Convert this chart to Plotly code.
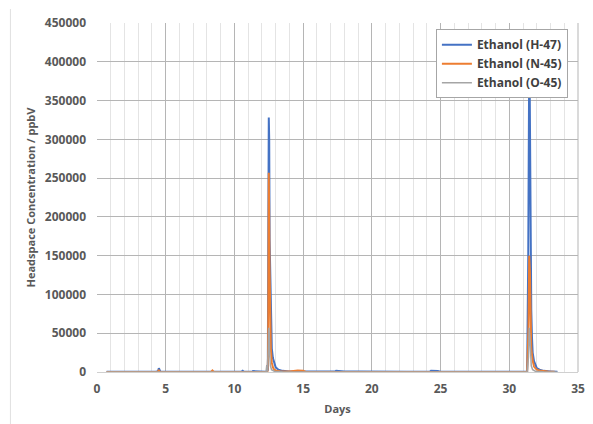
import plotly.graph_objects as go

# ---- data ----
h47_days = [0.7, 4.3, 4.45, 4.5, 4.6, 5.0, 8.0, 10.5, 10.6, 10.7, 11.3, 11.35, 12.30, 12.36, 12.40, 12.43,
            12.47, 12.50, 12.53, 12.56, 12.60, 12.63, 12.67, 12.72, 12.80, 12.90, 13.00, 13.20, 13.50,
            14.00, 15.0, 16.0, 17.3, 17.4, 18.0, 19.0, 20.0, 21.0, 22.0, 22.5, 24.2, 24.3, 24.8, 25.0,
            25.5, 26.4, 26.5, 27.2, 27.3, 28.3, 28.4, 29.5, 31.30, 31.38, 31.42, 31.45, 31.48, 31.52,
            31.56, 31.60, 31.65, 31.70, 31.80, 31.90, 32.00, 32.20, 32.50, 33.00, 33.50]
h47_vals = [200, 200, 1500, 5000, 800, 200, 200, 200, 1500, 200, 200, 1200, 200, 900, 9000, 1500,
            200000, 328000, 300000, 170000, 120000, 80000, 50000, 30000, 18000, 10000, 6000, 3000, 1500,
            800, 600, 500, 500, 1500, 600, 800, 500, 800, 500, 300, 300, 1500, 1200, 300,
            200, 200, 1000, 200, 900, 200, 1000, 200, 200, 150000, 390000, 400000, 380000, 250000,
            140000, 80000, 45000, 25000, 14000, 8000, 5000, 3000, 1500, 800, 300]

n45_days = [0.7, 4.4, 4.5, 4.6, 8.3, 8.4, 8.5, 12.40, 12.45, 12.47, 12.50, 12.53, 12.56, 12.60,
            12.65, 12.72, 12.80, 12.90, 13.00, 13.30, 14.00, 14.6, 14.8, 15.0, 15.2, 20.0, 31.30,
            31.40, 31.45, 31.50, 31.55, 31.60, 31.70, 31.80, 32.00, 32.30, 32.80, 33.30]
n45_vals = [100, 100, 2000, 100, 100, 2000, 100, 100, 20000, 150000, 257000, 200000, 130000, 60000,
            30000, 12000, 6000, 3000, 2000, 1000, 500, 1800, 1800, 1500, 100, 100, 100,
            60000, 150000, 130000, 60000, 30000, 15000, 7000, 3000, 1500, 500, 200]

o45_days = [0.7, 12.30, 12.35, 12.40, 12.47, 12.50, 12.53, 12.57, 12.62, 12.70, 12.90, 13.50,
            20.0, 31.30, 31.40, 31.45, 31.50, 31.55, 31.60, 31.70, 31.90, 32.50, 33.50]
o45_vals = [100, 100, 8000, 500, 30000, 57000, 50000, 20000, 8000, 3000, 1000, 300,
            100, 100, 20000, 57000, 45000, 20000, 8000, 3000, 1000, 300, 100]

names = ["Ethanol (H-47)", "Ethanol (N-45)", "Ethanol (O-45)"]
colors = ["#4472C4", "#ED7D31", "#A5A5A5"]

fig = go.Figure()
for name, xs, ys, c, w in [(names[0], h47_days, h47_vals, colors[0], 2),
                           (names[1], n45_days, n45_vals, colors[1], 2),
                           (names[2], o45_days, o45_vals, colors[2], 1.5)]:
    fig.add_trace(go.Scatter(x=xs, y=ys, mode="lines", name=name,
                             line=dict(color=c, width=w)))

tickfont = dict(family="Open Sans", size=12, color="#595959", weight="bold")

fig.update_layout(
    width=593, height=424,
    margin=dict(l=97, r=15, t=23, b=52, autoexpand=False),
    paper_bgcolor="white", plot_bgcolor="white",
    showlegend=True,
    legend=dict(x=0.979, y=0.982, xanchor="right", yanchor="top",
                bgcolor="white", bordercolor="#a6a6a6", borderwidth=1,
                font=dict(family="Open Sans", size=12, color="#404040", weight="bold"),
                itemwidth=30, tracegroupgap=0),
    xaxis=dict(range=[0, 35], dtick=5, tick0=0, showgrid=True, gridcolor="#b5b5b5", gridwidth=1,
               minor=dict(dtick=1, showgrid=True, gridcolor="#e4e4e4", gridwidth=1),
               zeroline=False, showline=True, linecolor="#d0d0d0", mirror=False,
               automargin=False,
               tickfont=tickfont, ticklabelstandoff=6,
               title=dict(text="Days", font=dict(family="Open Sans", size=11, color="#595959", weight="bold"),
                          standoff=8)),
    yaxis=dict(range=[0, 450000], dtick=50000, showgrid=True, gridcolor="#b5b5b5", gridwidth=1,
               zeroline=False, showline=False, tickformat="d", automargin=False,
               tickfont=tickfont, ticklabelstandoff=10,
               title=dict(text="Headspace Concentration / ppbV",
                          font=dict(family="Open Sans", size=11, color="#595959", weight="bold"),
                          standoff=6)),
    shapes=[
        dict(type="line", xref="x domain", yref="y domain", x0=1, x1=1, y0=0, y1=1,
             line=dict(color="#b5b5b5", width=1)),
        dict(type="line", xref="paper", yref="paper", x0=-0.18, x1=-0.18, y0=-0.15, y1=1.04,
             line=dict(color="#e0e0e0", width=1)),
    ],
)

fig.write_html("out.html")
